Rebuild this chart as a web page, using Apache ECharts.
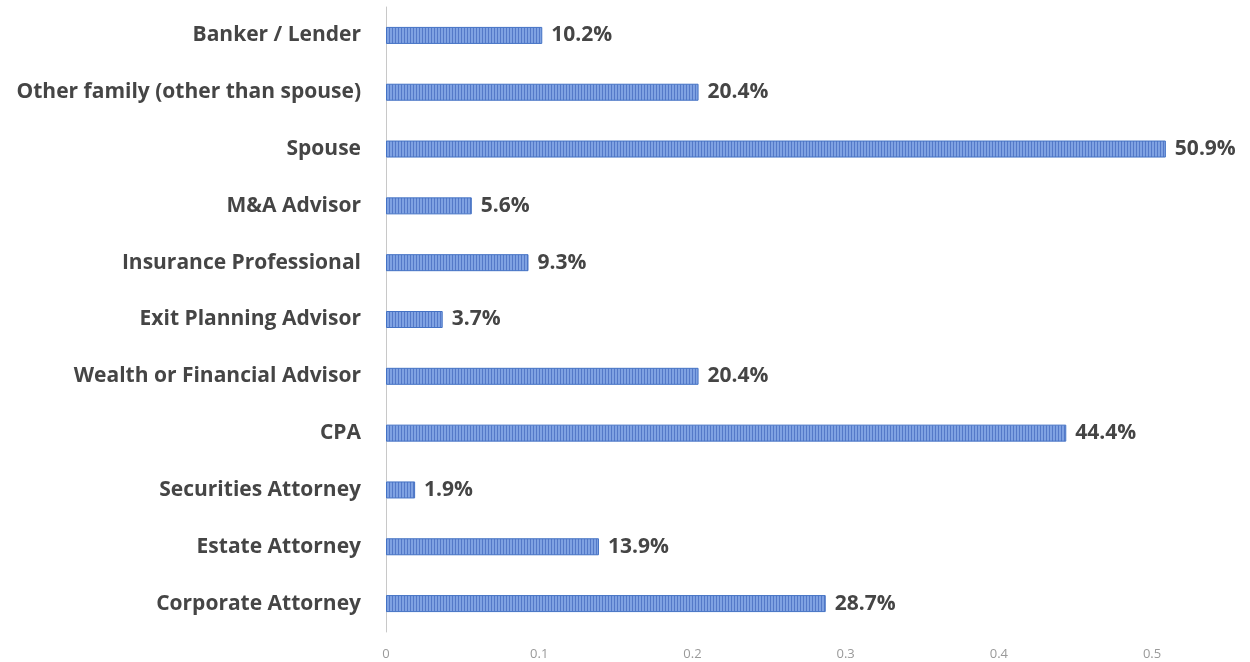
<!DOCTYPE html>
<html>
<head>
<meta charset="utf-8">
<script src="https://cdn.jsdelivr.net/npm/echarts@6/dist/echarts.min.js"></script>
<style>
  html, body { margin: 0; padding: 0; background: #ffffff; }
  #chart { width: 1250px; height: 662px; }
</style>
</head>
<body>
<div id="chart"></div>
<script>
// Advisors consulted, listed top to bottom
const categories = [
  'Banker / Lender',
  'Other family (other than spouse)',
  'Spouse',
  'M&A Advisor',
  'Insurance Professional',
  'Exit Planning Advisor',
  'Wealth or Financial Advisor',
  'CPA',
  'Securities Attorney',
  'Estate Attorney',
  'Corporate Attorney'
];
const shares = [0.102, 0.204, 0.509, 0.056, 0.093, 0.037, 0.204, 0.444, 0.019, 0.139, 0.287];
const tickValues = [0, 0.1, 0.2, 0.3, 0.4, 0.5];

// Narrow vertical stripe fill for the bars
function stripePattern() {
  const c = document.createElement('canvas');
  c.width = 3; c.height = 4;
  const ctx = c.getContext('2d');
  ctx.fillStyle = '#7fa2e2';
  ctx.fillRect(0, 0, 3, 4);
  ctx.fillStyle = '#5479c8';
  ctx.fillRect(2, 0, 1, 4);
  return c;
}

const chart = echarts.init(document.getElementById('chart'), null, { renderer: 'canvas' });
const font = '"Open Sans", Lato, sans-serif';

chart.setOption({
  backgroundColor: '#ffffff',
  animation: false,
  grid: { left: 386, right: 6, top: 7, bottom: 30, containLabel: false },
  xAxis: {
    type: 'value',
    min: 0,
    max: 0.56,
    interval: 0.1,
    axisLine: { show: false },
    axisTick: { show: false },
    splitLine: { show: false },
    axisLabel: {
      margin: 16,
      color: '#9a9a9a',
      fontSize: 13,
      fontFamily: font,
      formatter: function (v) {
        const hit = tickValues.find(t => Math.abs(t - v) < 1e-9);
        return hit === undefined ? '' : String(hit);
      }
    }
  },
  yAxis: {
    type: 'category',
    inverse: true,
    data: categories,
    axisLine: { show: true, lineStyle: { color: '#c8c8c8', width: 1 } },
    axisTick: { show: false },
    axisLabel: {
      margin: 25,
      color: '#454545',
      fontSize: 21,
      fontWeight: 'bold',
      fontFamily: font,
      padding: [3, 0, 0, 0]
    }
  },
  series: [{
    type: 'bar',
    data: shares,
    barWidth: 17,
    itemStyle: {
      color: { image: stripePattern(), repeat: 'repeat' },
      borderColor: '#4472c4',
      borderWidth: 1
    },
    label: {
      show: true,
      position: 'right',
      distance: 9,
      color: '#454545',
      fontSize: 21,
      fontWeight: 'bold',
      fontFamily: font,
      padding: [3, 0, 0, 0],
      formatter: p => (p.value * 100).toFixed(1) + '%'
    }
  }]
});
</script>
</body>
</html>
